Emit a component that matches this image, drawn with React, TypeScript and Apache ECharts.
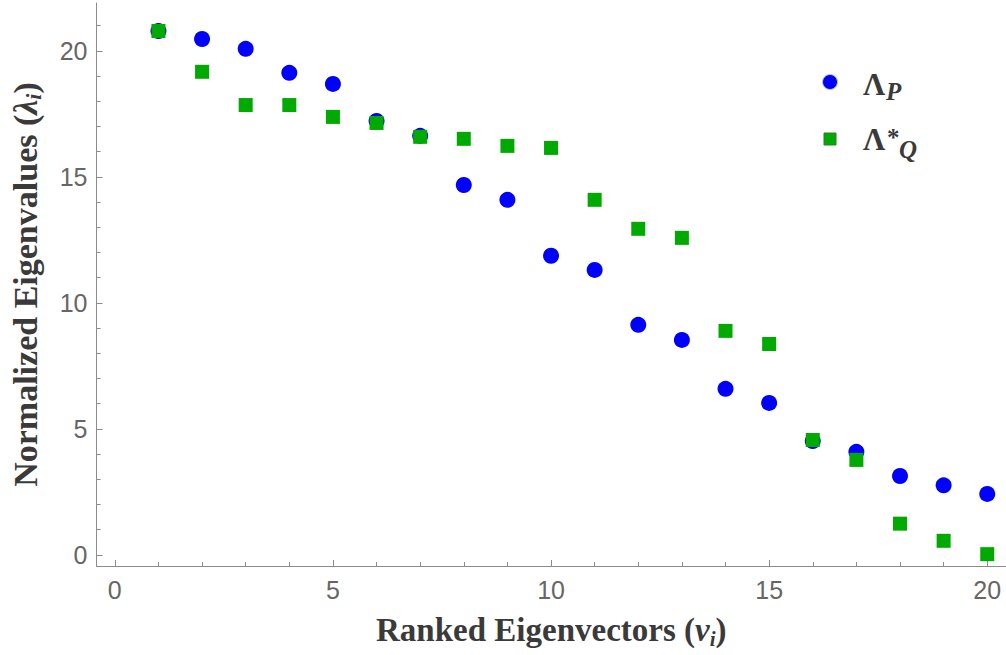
import React, { useEffect, useRef } from "react";
import * as echarts from "echarts";

// Rank of each eigenvector (x) and the two normalized eigenvalue spectra (y)
const ranks = [1, 2, 3, 4, 5, 6, 7, 8, 9, 10, 11, 12, 13, 14, 15, 16, 17, 18, 19, 20];
const lambdaP = [20.79, 20.47, 20.08, 19.13, 18.69, 17.22, 16.63, 14.68, 14.09, 11.87, 11.31, 9.13, 8.53, 6.59, 6.03, 4.52, 4.09, 3.13, 2.76, 2.42];
const lambdaQ = [20.79, 19.17, 17.85, 17.85, 17.38, 17.14, 16.59, 16.51, 16.23, 16.15, 14.09, 12.94, 12.58, 8.89, 8.37, 4.56, 3.77, 1.24, 0.56, 0.03];

// Tick positions
const xMajorTicks = [0, 5, 10, 15, 20];
const xMinorTicks = [1, 2, 3, 4, 6, 7, 8, 9, 11, 12, 13, 14, 16, 17, 18, 19];
const yMajorTicks = [0, 5, 10, 15, 20];
const yMinorTicks = [1, 2, 3, 4, 6, 7, 8, 9, 11, 12, 13, 14, 16, 17, 18, 19, 21];

const X_MIN = -0.42;
const X_MAX = 20.43;
const Y_MIN = -0.44;
const Y_MAX = 21.9;

const AXIS_COLOR = "#8c8c8c";
const LABEL_COLOR = "#666666";
const TITLE_COLOR = "#3a3a3a";
const BLUE = "#0000ff";
const GREEN = "#00aa00";

const serif = "'Liberation Serif', 'Times New Roman', serif";
const sans = "'Liberation Sans', Arial, sans-serif";

// Rich-text styles for axis titles with an italic subscript
function titleRich(size: number) {
  const lh = Math.round(size * 1.15);
  return {
    m: { fontFamily: serif, fontWeight: "bold", fontSize: size, color: TITLE_COLOR, lineHeight: lh },
    it: { fontFamily: serif, fontWeight: "bold", fontStyle: "italic", fontSize: size, color: TITLE_COLOR, lineHeight: lh },
    sub: {
      fontFamily: serif,
      fontWeight: "bold",
      fontStyle: "italic",
      fontSize: Math.round(size * 0.64),
      color: TITLE_COLOR,
      lineHeight: Math.round(size * 0.52),
      verticalAlign: "bottom",
    },
  };
}

export default function App() {
  const ref = useRef<HTMLDivElement>(null);

  useEffect(() => {
    if (!ref.current) return;
    const chart = echarts.init(ref.current, undefined, { renderer: "svg" });

    const pointsP = ranks.map((r, i) => [r, lambdaP[i]]);
    const pointsQ = ranks.map((r, i) => [r, lambdaQ[i]]);

    const axisBase = {
      type: "value",
      splitLine: { show: false },
    };

    chart.setOption({
      animation: false,
      backgroundColor: "#ffffff",
      grid: { left: 95, top: 3, right: 0, bottom: 89, containLabel: false },
      xAxis: [
        {
          ...axisBase,
          min: X_MIN,
          max: X_MAX,
          position: "bottom",
          axisLine: { show: true, onZero: false, lineStyle: { color: AXIS_COLOR, width: 1 } },
          axisTick: { show: true, inside: true, length: 6, customValues: xMajorTicks, lineStyle: { color: AXIS_COLOR } },
          axisLabel: {
            show: true,
            customValues: xMajorTicks,
            margin: 11,
            color: LABEL_COLOR,
            fontFamily: sans,
            fontSize: 25,
          },
          name: "{m|Ranked Eigenvectors (}{it|v}{sub|i}{m|)}",
          nameLocation: "middle",
          nameGap: 45,
          nameTextStyle: { rich: titleRich(33) },
        },
        {
          ...axisBase,
          min: X_MIN,
          max: X_MAX,
          position: "bottom",
          axisLine: { show: false, onZero: false },
          axisTick: { show: true, inside: true, length: 4, customValues: xMinorTicks, lineStyle: { color: AXIS_COLOR } },
          axisLabel: { show: false },
        },
      ],
      yAxis: [
        {
          ...axisBase,
          min: Y_MIN,
          max: Y_MAX,
          position: "left",
          axisLine: { show: true, onZero: false, lineStyle: { color: AXIS_COLOR, width: 1 } },
          axisTick: { show: true, inside: true, length: 6, customValues: yMajorTicks, lineStyle: { color: AXIS_COLOR } },
          axisLabel: {
            show: true,
            customValues: yMajorTicks,
            margin: 9,
            color: LABEL_COLOR,
            fontFamily: sans,
            fontSize: 25,
          },
          name: "{m|Normalized Eigenvalues (}{it|λ}{sub|i}{m|)}",
          nameLocation: "middle",
          nameRotate: 90,
          nameGap: 52,
          nameTextStyle: { rich: titleRich(34) },
        },
        {
          ...axisBase,
          min: Y_MIN,
          max: Y_MAX,
          position: "left",
          axisLine: { show: false, onZero: false },
          axisTick: { show: true, inside: true, length: 4, customValues: yMinorTicks, lineStyle: { color: AXIS_COLOR } },
          axisLabel: { show: false },
        },
      ],
      series: [
        {
          name: "ΛP",
          type: "scatter",
          xAxisIndex: 0,
          yAxisIndex: 0,
          symbol: "circle",
          symbolSize: 16,
          itemStyle: { color: BLUE, opacity: 1 },
          data: pointsP,
          z: 2,
        },
        {
          name: "Λ*Q",
          type: "scatter",
          xAxisIndex: 0,
          yAxisIndex: 0,
          symbol: "rect",
          symbolSize: 14,
          itemStyle: { color: GREEN, opacity: 1 },
          data: pointsQ,
          z: 3,
        },
      ],
      graphic: [
        {
          type: "circle",
          shape: { cx: 830, cy: 82, r: 7.5 },
          style: { fill: BLUE, stroke: "#c4c4c4", lineWidth: 1 },
        },
        {
          type: "text",
          x: 863,
          y: 84,
          style: { text: "Λ", font: `bold 31px ${serif}`, fill: TITLE_COLOR, verticalAlign: "middle" },
        },
        {
          type: "text",
          x: 886,
          y: 91,
          style: { text: "P", font: `italic bold 25px ${serif}`, fill: TITLE_COLOR, verticalAlign: "middle" },
        },
        {
          type: "rect",
          shape: { x: 824, y: 133, width: 12, height: 12 },
          style: { fill: GREEN, stroke: "#2f7f2f", lineWidth: 1 },
        },
        {
          type: "text",
          x: 863,
          y: 139,
          style: { text: "Λ", font: `bold 31px ${serif}`, fill: TITLE_COLOR, verticalAlign: "middle" },
        },
        {
          type: "text",
          x: 887,
          y: 125,
          style: { text: "*", font: `bold 25px ${serif}`, fill: TITLE_COLOR, verticalAlign: "top" },
        },
        {
          type: "text",
          x: 899,
          y: 149,
          style: { text: "Q", font: `italic bold 25px ${serif}`, fill: TITLE_COLOR, verticalAlign: "middle" },
        },
      ],
    });

    return () => chart.dispose();
  }, []);

  return (
    <div
      ref={ref}
      style={{ position: "absolute", left: 0, top: 0, width: 1006, height: 655, background: "#ffffff" }}
    />
  );
}
